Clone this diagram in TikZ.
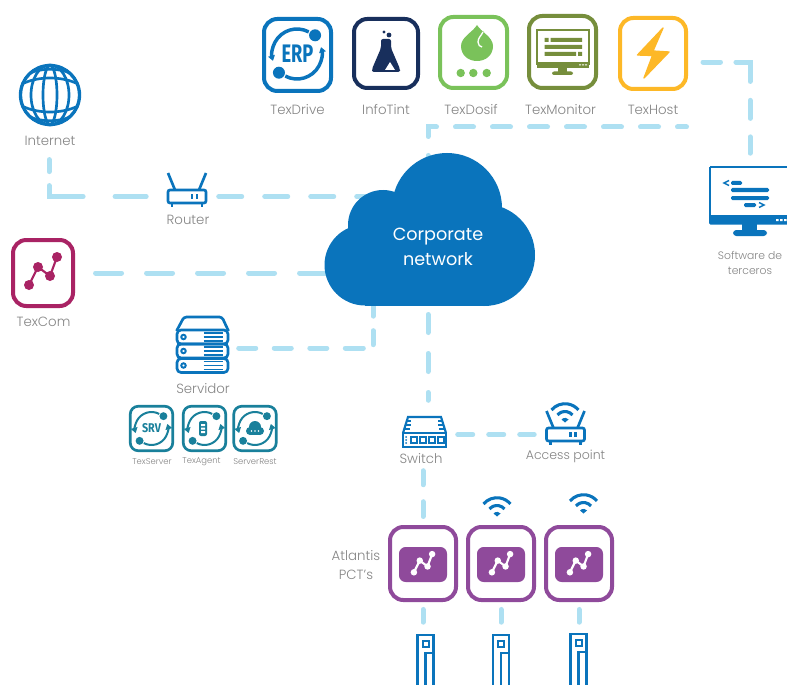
\documentclass[tikz,border=0pt]{standalone}
\usepackage{fontspec}
\setmainfont{Poppins}[UprightFont=* Light]
\newfontfamily\cloudfont{Poppins}
\setsansfont{Fira Sans}
\usetikzlibrary{arrows.meta}
\definecolor{netblue}{HTML}{0A74BC}
\definecolor{linkblue}{HTML}{AEE0F2}
\definecolor{navyink}{HTML}{182F5C}
\definecolor{dosifgreen}{HTML}{7AC25A}
\definecolor{monitorgreen}{HTML}{768E3C}
\definecolor{hostyellow}{HTML}{FDB827}
\definecolor{commagenta}{HTML}{A92364}
\definecolor{pctpurple}{HTML}{8F4A9B}
\definecolor{agentteal}{HTML}{19809B}
\definecolor{labelgray}{HTML}{858585}
\tikzset{
  link/.style={draw=linkblue, line width=3.75pt, line cap=round},
  appbox/.style 2 args={rectangle, rounded corners=10pt, line width=3pt, minimum width=#1*0.75pt, minimum height=#2*0.75pt, inner sep=0pt},
  hold/.style 2 args={rectangle, minimum width=#1*0.75pt, minimum height=#2*0.75pt, inner sep=0pt},
  lbl/.style={text=labelgray, inner sep=0pt, align=center, font=\fontsize{10}{14}\selectfont},
  smalllbl/.style={text=labelgray, inner sep=0pt, align=center, font=\fontsize{6.3}{7}\selectfont},
  pics/trend/.style={code={
    \draw[#1, line width=1.6pt] (-14,12) -- (-5,-6) -- (7,3) -- (14,-16);
    \foreach \p in {(-14,12),(-5,-6),(7,3),(14,-16)} \fill[#1] \p circle (5);
  }},
  pics/wifi/.style={code={
    \draw[netblue, line width=2.3pt] (-13.5,-11) arc[start angle=-140, end angle=-40, radius=17.6];
    \draw[netblue, line width=2.3pt] (-7.5,-6) arc[start angle=-140, end angle=-40, radius=9.8];
    \fill[netblue] (-3.5,-1.5) arc[start angle=-140, end angle=-40, radius=4.6] -- (0,1.5) -- cycle;
  }},
  pics/routerbody/.style={code={
    \draw[netblue, line width=2pt, rounded corners=1.5pt] (-19,-6.5) rectangle (19,6.5);
    \draw[netblue, line width=2pt] (-12,-6.5) -- (-19,-23.5) (12,-6.5) -- (19,-23.5);
    \draw[netblue, line width=2pt] (5,-2.5) -- (5,2.5) (10,-2.5) -- (10,2.5);
    \draw[netblue, line width=2pt] (-15,7) -- (-15,10) (15,7) -- (15,10);
  }},
  pics/serverrow/.style={code={
    \draw[netblue, line width=2pt, rounded corners=3pt] (-25.5,-7) rectangle (25.5,7);
    \draw[netblue, line width=1.5pt] (-19,0) circle (2.2);
    \draw[netblue, line width=1.2pt] (1,-4) -- (20,-4) (1,0) -- (20,0) (1,4) -- (20,4);
  }},
  pics/syncring/.style={code={
    \draw[#1, -{Triangle[length=4pt,width=5pt]}] (-62:25) arc[start angle=-62, end angle=-196, radius=25];
    \draw[#1, -{Triangle[length=4pt,width=5pt]}] (118:25) arc[start angle=118, end angle=-16, radius=25];
    \fill[#1] (-46:26) circle (6) (134:26) circle (6);
  }},
  pics/sensor/.style={code={
    \draw[netblue, line width=2pt] (-8,60) -- (-8,0) -- (8,0) -- (8,60);
    \draw[netblue, line width=1.5pt] (-3,6) rectangle (3,12);
    \draw[netblue, line width=2pt] (0,60) -- (0,18) -- (8,18);
  }}
}
\begin{document}
\begin{tikzpicture}[x=0.75pt,y=-0.75pt]
\clip (0,0) rectangle (787,684);
\fill[white] (0,0) rectangle (787,684);
% boxes and holders
\node[appbox={67}{72}, draw=netblue] (texdrive) at (297.5,55) {};
\node[appbox={64}{69}, draw=navyink] (infotint) at (386,53.5) {};
\node[appbox={67}{71}, draw=dosifgreen] (texdosif) at (473.5,52.5) {};
\node[appbox={67}{72}, draw=monitorgreen] (texmonitor) at (562.5,52) {};
\node[appbox={66}{71}, draw=hostyellow] (texhost) at (653,53.5) {};
\node[appbox={60}{66}, draw=commagenta] (texcom) at (43,273) {};
\node[hold={62}{62}] (internet) at (49,95) {};
\node[hold={40}{13}] (router) at (187,196.5) {};
\node[hold={53}{57}] (server) at (202.5,345) {};
\node[hold={44}{31}] (switch) at (424,431.5) {};
\node[hold={41}{15}] (accesspoint) at (565.5,434.5) {};
\node[hold={80}{58}] (software) at (750,195) {};
\node[hold={210}{153}] (cloud) at (430,230) {};
\node[appbox={66}{73}, draw=pctpurple] (pcta) at (423,563.5) {};
\node[appbox={66}{73}, draw=pctpurple] (pctb) at (501,563.5) {};
\node[appbox={66}{73}, draw=pctpurple] (pctc) at (579,563.5) {};
\node[hold={17}{60}] (sensora) at (425.5,665) {};
\node[hold={17}{60}] (sensorb) at (501,665) {};
\node[hold={17}{60}] (sensorc) at (578.5,665) {};
\coordinate (cloudtop) at (428,173.5);
\coordinate (barend) at (686.5,127);
\coordinate (cloudleg) at (373,300);
\coordinate (cloudfoot) at (428,314.5);
% connectors
\draw[link, dash pattern=on 9pt off 10.5pt on 33.75pt off 24pt on 24pt, shorten <=25pt, shorten >=15.4pt] (internet.south) |- (router.west);
\draw[link, dash pattern=on 17.25pt off 17.25pt, shorten <=8.6pt] (router.east) -- (router.east -| cloud);
\draw[link, dash pattern=on 19.5pt off 18.75pt, shorten <=15.4pt] (texcom.east) -- (texcom.east -| cloud);
\draw[link, dash pattern=on 12.75pt off 13.9pt on 12.75pt off 13.9pt on 12.75pt off 13.9pt on 13.5pt off 9.75pt on 10.5pt off 10.9pt on 15pt, shorten <=7.1pt] ([yshift=-2.25pt]server.east) -| (cloudleg);
\draw[link, dash pattern=on 13.5pt off 14.25pt] (cloudtop) |- (barend);
\draw[link, dash pattern=on 13.1pt off 11.6pt on 25.1pt off 14.2pt on 13.5pt off 13.9pt on 13.5pt, shorten <=11.25pt, shorten >=9.4pt] ([yshift=-6.4pt]texhost.east) -| (software.north);
\draw[link, dash pattern=on 13.5pt off 15.75pt, shorten >=11.6pt] (cloudfoot) -- (cloudfoot |- switch.north);
\draw[link, dash pattern=on 11.25pt off 12pt, shorten <=8.6pt, shorten >=7.9pt] (switch.east |- accesspoint.west) -- (accesspoint.west);
\draw[link, dash pattern=on 10.5pt off 12.75pt on 12.75pt, shorten <=17.6pt, shorten >=6.4pt] (pcta.north |- switch.south) -- (pcta.north);
\draw[link, shorten <=5.6pt, shorten >=9.4pt] (pcta.south) -- (pcta.south |- sensora.north);
\draw[link, shorten <=5.6pt, shorten >=9.4pt] (pctb.south) -- (pctb.south |- sensorb.north);
\draw[link, shorten <=5.6pt, shorten >=9.4pt] (pctc.south) -- (pctc.south |- sensorc.north);
% cloud
\fill[netblue] (365,265) circle (40.5);
\fill[netblue] (383,225) circle (35);
\fill[netblue] (447,208) circle (55);
\fill[netblue] (484,255) circle (51);
\fill[netblue] (365,240) rectangle (484,305.5);
\node[text=white, inner sep=0pt, align=center, font=\cloudfont\fontsize{13.2}{18.75}\selectfont] (cloudlbl) at (438,246.5) {Corporate\\network};
% globe
\begin{scope}[shift={(50,95)}]
  \draw[netblue, line width=2.5pt] (0,0) circle (29.5);
  \draw[netblue, line width=2pt] (0,0) ellipse (7 and 29.5);
  \draw[netblue, line width=2pt] (0,0) ellipse (19 and 30);
  \draw[netblue, line width=2pt] (-28,-11) .. controls (-12,-19) and (12,-19) .. (28,-11);
  \draw[netblue, line width=2pt] (-28,11) .. controls (-12,19) and (12,19) .. (28,11);
  \draw[netblue, line width=2pt] (-20,-22) .. controls (-8,-27) and (8,-27) .. (20,-22);
  \draw[netblue, line width=2pt] (-20,22) .. controls (-8,27) and (8,27) .. (20,22);
\end{scope}
% router, access point, server
\pic at (187,196.5) {routerbody};
\pic at (565.5,434.5) {routerbody};
\pic at (565,421) {wifi};
\pic at (497,515) {wifi};
\pic at (583.5,512) {wifi};
\draw[netblue, line width=2pt, line join=round, rounded corners=2pt] (176.5,331) -- (184,317) -- (222,317) -- (228.5,331);
\pic at (202.5,337) {serverrow};
\pic at (202.5,351) {serverrow};
\pic at (202.5,365.5) {serverrow};
% switch
\draw[netblue, line width=1.8pt] (403,433) rectangle (446,447);
\draw[netblue, line width=1.6pt] (403,433) -- (408,417) -- (441,417) -- (446,433);
\draw[netblue, line width=1pt] (407,421) -- (411,421) (406,425) -- (411,425) (405,429) -- (410,429) (442,421) -- (438,421) (443,425) -- (438,425) (444,429) -- (439,429);
\foreach \x in {414,423,432,441} \draw[netblue, line width=1.3pt] (\x-3,437) rectangle (\x+3,443);
\fill[netblue] (406,437) circle (1) (406,440) circle (1) (406,443) circle (1);
% app icons
\pic[scale=1] at (297,54) {syncring={color=netblue, line width=2.6pt}};
\node[text=netblue, inner sep=0pt, font=\sffamily\bfseries\fontsize{19}{19}\selectfont] (erp) at (297.5,54) {\scalebox{.72}[1]{ERP}};
\fill[navyink, rounded corners=1.5pt] (381,39) -- (391,39) -- (391,48) -- (400,69) -- (400,72) -- (372,72) -- (372,69) -- (381,48) -- cycle;
\fill[white] (385,70) -- (390,62) -- (395,70) -- cycle;
\fill[navyink] (384,32) circle (1.7) (389,35) circle (2.4);
\fill[dosifgreen] (477,25) .. controls (473,32) and (461,37) .. (461,46) .. controls (461,55) and (468,61) .. (477,61) .. controls (486,61) and (493,55) .. (493,46) .. controls (493,37) and (481,32) .. (477,25) -- cycle;
\fill[dosifgreen] (483,31) .. controls (481,36) and (477,38) .. (477,42) .. controls (477,45) and (479,48) .. (482,48) .. controls (485,48) and (488,45) .. (488,42) .. controls (488,38) and (485,36) .. (483,31) -- cycle;
\draw[white, line width=1pt] (483,32) .. controls (481,36) and (478,38) .. (478,42) .. controls (478,45) and (480,47) .. (482,47);
\fill[dosifgreen] (460.7,73) circle (4.2) (473.3,73) circle (4.2) (486.7,73) circle (4.2);
\draw[monitorgreen, line width=1.5pt] (537,30.5) rectangle (588.5,64);
\fill[monitorgreen] (536.5,62) rectangle (589,68);
\fill[monitorgreen] (558,68) rectangle (567,72);
\fill[monitorgreen, rounded corners=1.5pt] (552,71.5) rectangle (573,75);
\fill[monitorgreen] (544.5,38) rectangle (548.5,42) (550.5,38) rectangle (582,42) (544.5,45) rectangle (582,49) (544.5,52) rectangle (576,56) (578,52) rectangle (582,56);
\fill[white] (579,64.3) rectangle (581,65.5) (582,64.3) rectangle (584,65.5) (585,64.3) rectangle (587,65.5);
\fill[hostyellow, draw=hostyellow, line width=1pt, line join=round] (663,28) -- (637.5,55) -- (652.5,55.5) -- (644,78) -- (669,52) -- (653,51) -- cycle;
\pic[scale=1] at (43,273) {trend=commagenta};
% software monitor
\draw[netblue, line width=1.6pt] (710,167) -- (790,167) (710,167) -- (710,220);
\fill[netblue, rounded corners=1pt] (709,215) rectangle (792,224.5);
\fill[netblue] (742,224) rectangle (757,230);
\fill[netblue, rounded corners=2.5pt] (733,230) rectangle (767,236);
\draw[netblue, line width=1.1pt] (729,180.5) -- (724,183) -- (729,185.5);
\draw[netblue, line width=1.1pt] (759,202.5) -- (764,205) -- (759,207.5);
\fill[netblue, rounded corners=1pt] (731,181) rectangle (742,185) (731,188) rectangle (769,192) (731,196) rectangle (769,200) (744,203) rectangle (756,207);
\fill[white] (776,219) rectangle (778.5,221) (780,219) rectangle (782.5,221) (784,219) rectangle (786.5,221);
% servicios
\node[appbox={42.5}{44.5}, draw=agentteal, line width=2pt, rounded corners=6pt] (texserver) at (151.5,428.5) {};
\node[appbox={42.5}{44.5}, draw=agentteal, line width=2pt, rounded corners=6pt] (texagent) at (204.5,428.5) {};
\node[appbox={42.5}{44.5}, draw=agentteal, line width=2pt, rounded corners=6pt] (serverrest) at (255,428.5) {};
\pic[scale=.66] at (151.5,428.5) {syncring={color=agentteal, line width=1.5pt}};
\pic[scale=.66] at (204.5,428.5) {syncring={color=agentteal, line width=1.5pt}};
\pic[scale=.66] at (255,428.5) {syncring={color=agentteal, line width=1.5pt}};
\node[text=agentteal, inner sep=0pt, font=\sffamily\bfseries\fontsize{9.5}{9.5}\selectfont] (srv) at (151.5,428.5) {\scalebox{.85}[1]{SRV}};
\fill[agentteal, rounded corners=1.5pt] (199,421) rectangle (207,436);
\fill[white] (201,424) rectangle (205,426) (201,427.5) rectangle (205,429.5) (201,431) rectangle (205,433);
\fill[agentteal] (250,431) circle (4);
\fill[agentteal] (255,427) circle (6);
\fill[agentteal] (260,431) circle (4);
\fill[agentteal] (250,431) rectangle (260,435);
\fill[white] (251.5,431) circle (.9) (255,431) circle (.9) (258.5,431) circle (.9);
% pct
\fill[pctpurple, rounded corners=5pt] (399,547) rectangle (447,582) (477,547) rectangle (525,582) (555,547) rectangle (603,582);
\pic[scale=.65] at (423,564.5) {trend=white};
\pic[scale=.65] at (501,564.5) {trend=white};
\pic[scale=.65] at (579,564.5) {trend=white};
\pic at (425.5,635) {sensor};
\pic at (501,635) {sensor};
\pic at (578.5,634) {sensor};
% labels
\node[lbl] (lbldrive) at (297.5,110) {TexDrive};
\node[lbl] (lblinfotint) at (386,109.5) {InfoTint};
\node[lbl] (lbldosif) at (471,110) {TexDosif};
\node[lbl] (lblmonitor) at (560.5,110) {TexMonitor};
\node[lbl] (lblhost) at (653,109.5) {TexHost};
\node[lbl] (lblinternet) at (50,141) {Internet};
\node[lbl] (lblrouter) at (188,220) {Router};
\node[lbl] (lblcom) at (43.5,322) {TexCom};
\node[lbl] (lblserver) at (203,388.5) {Servidor};
\node[lbl] (lblswitch) at (421,458.5) {Switch};
\node[lbl, font=\fontsize{9.4}{14}\selectfont] (lblap) at (565.5,456.5) {Access point};
\node[lbl] (lblpct) at (356,565) {Atlantis\\PCT's};
\node[smalllbl] (lbltexserver) at (152,462) {TexServer};
\node[smalllbl] (lbltexagent) at (201.5,462) {TexAgent};
\node[smalllbl] (lblrest) at (255,462) {ServerRest};
\node[text=labelgray, inner sep=0pt, align=center, font=\fontsize{8.1}{11}\selectfont] (lblsoftware) at (750,263) {Software de\\terceros};
\end{tikzpicture}
\end{document}
